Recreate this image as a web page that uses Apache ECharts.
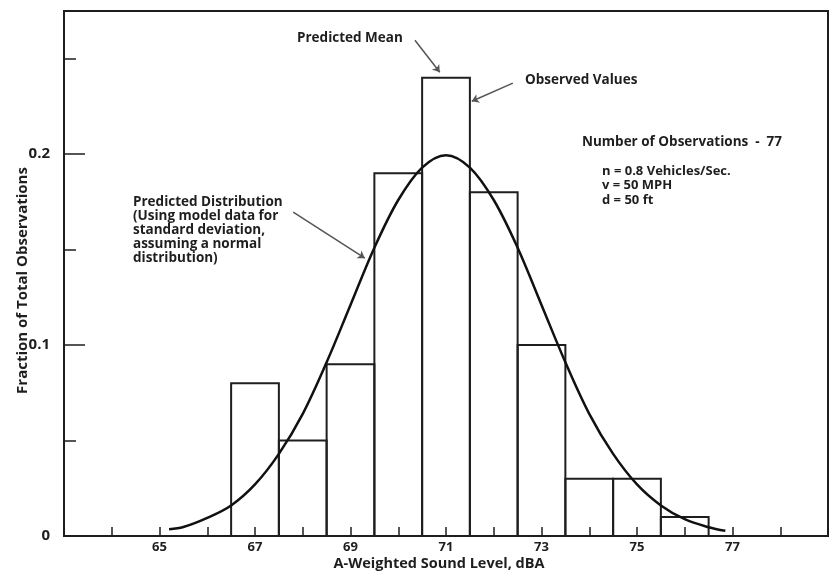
<!DOCTYPE html>
<html>
<head>
<meta charset="utf-8">
<script src="https://cdn.jsdelivr.net/npm/echarts@6/dist/echarts.min.js"></script>
<style>html,body{margin:0;padding:0;background:#fff}#c{width:833px;height:575px}</style>
</head>
<body>
<div id="c"></div>
<script>
// Histogram bins (A-weighted sound level, dBA) and observed fractions
const binCenters = [67, 68, 69, 70, 71, 72, 73, 74, 75, 76];
const observedFractions = [0.08, 0.05, 0.09, 0.19, 0.24, 0.18, 0.10, 0.03, 0.03, 0.01];

// Predicted distribution curve
const curveX = [65.2, 65.5, 66, 66.5, 67, 67.5, 68, 68.5, 69, 69.5, 70, 70.5, 71, 71.5, 72, 72.5, 73, 73.5, 74, 74.5, 75, 75.5, 76, 76.5, 76.85];
const curveY = [0.0035, 0.0047, 0.0095, 0.016, 0.027, 0.043, 0.064, 0.091, 0.121, 0.151, 0.176, 0.193, 0.1995, 0.193, 0.176, 0.151, 0.121, 0.091, 0.064, 0.043, 0.027, 0.016, 0.0088, 0.0046, 0.0027];

// Tick labels
const xTickLabels = ['65', '67', '69', '71', '73', '75', '77'];
const yTickValues = [0, 0.1, 0.2];
const yTickLabels = ['0', '0.1', '0.2'];

const FONT = '"Open Sans", Lato, sans-serif';
const INK = '#1e1e1e';
const FS = 13.5;

const chart = echarts.init(document.getElementById('c'), null, {renderer: 'canvas'});

const barData = binCenters.map((c, i) => [c, observedFractions[i]]);
const curveData = curveX.map((x, i) => [x, curveY[i]]);

const txt = (left, top, text, lh, size) => ({
  type: 'text', left: left, top: top, silent: true,
  style: {text: text, fill: INK, fontFamily: FONT, fontWeight: 'bold', fontSize: size || FS, lineHeight: lh || 14}
});

chart.setOption({
  animation: false,
  backgroundColor: '#fff',
  grid: {left: 64, right: 5, top: 11, bottom: 39, containLabel: false, outerBoundsMode: 'none',
         show: true, borderColor: INK, borderWidth: 2, backgroundColor: 'transparent'},
  xAxis: {
    type: 'value', min: 63, max: 79, interval: 1,
    name: 'A-Weighted Sound Level, dBA', nameLocation: 'middle', nameGap: 20, nameMoveOverlap: false,
    nameTextStyle: {color: INK, fontFamily: FONT, fontWeight: 'bold', fontSize: 14.5, padding: [0, 14, 0, 0]},
    axisLine: {show: true, lineStyle: {color: INK, width: 2}},
    axisTick: {show: true, inside: true, length: 9, lineStyle: {color: INK, width: 1.5}},
    splitLine: {show: false},
    axisLabel: {
      color: INK, fontFamily: FONT, fontWeight: 'bold', fontSize: 13, margin: 5,
      formatter: v => xTickLabels.indexOf(String(v)) >= 0 ? String(v) : ''
    }
  },
  yAxis: {
    type: 'value', min: 0, max: 0.275, interval: 0.1,
    name: 'Fraction of Total Observations', nameLocation: 'middle', nameGap: 34, nameMoveOverlap: false,
    nameTextStyle: {color: INK, fontFamily: FONT, fontWeight: 'bold', fontSize: 15, padding: [0, 14, 0, 0]},
    axisLine: {show: true, lineStyle: {color: INK, width: 2}},
    axisTick: {show: true, inside: true, length: 21, lineStyle: {color: INK, width: 1.5}},
    minorTick: {show: true, splitNumber: 2, length: 12, lineStyle: {color: INK, width: 1.5}},
    splitLine: {show: false},
    minorSplitLine: {show: false},
    axisLabel: {
      color: INK, fontFamily: FONT, fontWeight: 'bold', fontSize: 15, margin: 14,
      formatter: v => {
        for (let i = 0; i < yTickValues.length; i++) {
          if (Math.abs(v - yTickValues[i]) < 1e-9) return yTickLabels[i];
        }
        return '';
      }
    }
  },
  series: [
    {
      type: 'custom',
      data: barData,
      z: 2,
      renderItem: (params, api) => {
        const c = api.value(0), h = api.value(1);
        const p0 = api.coord([c - 0.5, h]);
        const p1 = api.coord([c + 0.5, 0]);
        return {
          type: 'rect',
          shape: {x: p0[0], y: p0[1], width: p1[0] - p0[0], height: p1[1] - p0[1]},
          style: {fill: 'transparent', stroke: INK, lineWidth: 2}
        };
      }
    },
    {
      type: 'line',
      data: curveData,
      smooth: 0.35,
      showSymbol: false,
      symbol: 'none',
      z: 3,
      lineStyle: {color: '#111', width: 2.5},
      markLine: {
        silent: true,
        symbol: ['none', 'arrow'],
        symbolSize: 7,
        label: {show: false},
        lineStyle: {color: '#555', width: 1.5, type: 'solid'},
        data: [
          [{coord: [70.35, 0.2597]}, {coord: [70.87, 0.2429]}],
          [{coord: [72.40, 0.2372]}, {coord: [71.54, 0.2277]}],
          [{coord: [67.80, 0.1696]}, {coord: [69.30, 0.1455]}]
        ]
      }
    }
  ],
  graphic: [
    txt(297, 31, 'Predicted Mean'),
    txt(525, 73, 'Observed Values'),
    txt(582, 135, 'Number of Observations  -  77', 14, 13.5),
    txt(602, 164, 'n = 0.8 Vehicles/Sec.\nv = 50 MPH\nd = 50 ft', 14.5, 13),
    txt(133, 195, 'Predicted Distribution\n(Using model data for\nstandard deviation,\nassuming a normal\ndistribution)', 14, 13.5)
  ]
});
</script>
</body>
</html>
